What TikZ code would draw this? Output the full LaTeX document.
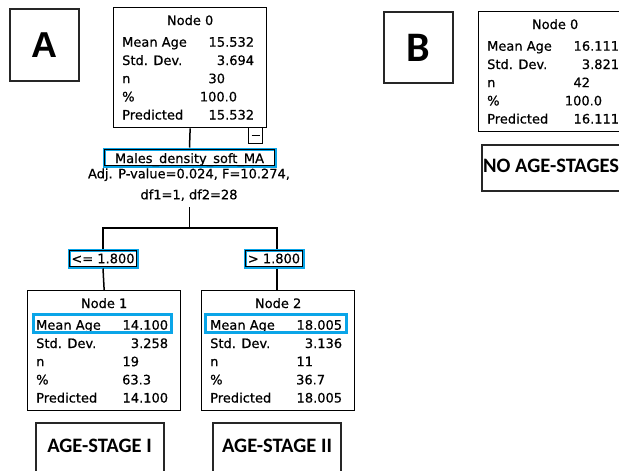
\documentclass[tikz,border=0pt]{standalone}
\usepackage{fontspec}
\newfontfamily\spssfont[FakeBold=0.6]{DejaVu Sans}
\newfontfamily\calfont{Carlito}
\newfontfamily\arialfont{Liberation Sans}
\usetikzlibrary{calc}
\definecolor{hlblue}{RGB}{10,165,232}
\tikzset{
  statbox/.style={draw=black, line width=1.3pt, inner sep=0pt},
  txt/.style={font=\spssfont\fontsize{13}{15}\selectfont, inner sep=0pt},
  conn/.style={draw=black, line width=1.5pt},
  hl/.style={draw=hlblue, line width=3pt, inner sep=0pt},
  stagebox/.style={draw=black!85, line width=1.5pt, inner sep=0pt},
  stagetxt/.style={font=\calfont\bfseries\fontsize{20.5}{24}\selectfont, inner sep=0pt},
}
% #1 name, #2 left, #3 top, #4 title, #5 mean, #6 sd, #7 n, #8 pct, #9 pred
\newcommand\statnode[9]{%
  \node[statbox, minimum width=153pt, minimum height=120pt, anchor=north west] (#1) at (#2,#3) {};
  \node[txt, anchor=base] (#1-title) at ([yshift=-18pt]#1.north) {#4};
  \node[txt, anchor=base west] (#1-l1) at ([xshift=9pt,yshift=-39.7pt]#1.north west) {Mean Age};
  \node[txt, anchor=base west] (#1-l2) at ([xshift=9pt,yshift=-58pt]#1.north west) {Std. Dev.};
  \node[txt, anchor=base west] (#1-l3) at ([xshift=9pt,yshift=-76.2pt]#1.north west) {n};
  \node[txt, anchor=base west] (#1-l4) at ([xshift=9pt,yshift=-94.4pt]#1.north west) {\%};
  \node[txt, anchor=base west] (#1-l5) at ([xshift=9pt,yshift=-112.5pt]#1.north west) {Predicted};
  \node[txt, anchor=base east] (#1-v1) at ([xshift=-13pt,yshift=-39.7pt]#1.north east) {#5};
  \node[txt, anchor=base east] (#1-v2) at ([xshift=-13pt,yshift=-58pt]#1.north east) {#6};
  \node[txt, anchor=base west] (#1-v3) at ([xshift=-59pt,yshift=-76.2pt]#1.north east) {#7};
  \node[txt, anchor=base east] (#1-v4) at ([xshift=-30pt,yshift=-94.4pt]#1.north east) {#8};
  \node[txt, anchor=base east] (#1-v5) at ([xshift=-13pt,yshift=-112.5pt]#1.north east) {#9};
}
\begin{document}
\begin{tikzpicture}[x=1pt,y=-1pt]
\useasboundingbox (0,0) rectangle (619,471);
\clip (0,0) rectangle (619,471);
\fill[white] (0,0) rectangle (619,471);

% panel labels
\node[stagebox, minimum width=69pt, minimum height=72pt,
      font=\arialfont\bfseries\fontsize{36}{40}\selectfont] (boxA) at (44.5,45) {A};
\node[stagebox, minimum width=69pt, minimum height=71pt,
      font=\calfont\bfseries\fontsize{42}{46}\selectfont] (boxB) at (418.5,47.5) {B};

% ---- panel A ----
\statnode{n0}{113}{7}{Node 0}{15.532}{3.694}{30}{100.0}{15.532}
\node[statbox, line width=1.1pt, minimum width=14pt, minimum height=16pt, anchor=north west] (m0) at (248,127) {};
\draw[line width=1.2pt] ([xshift=-4pt]m0.center) -- ([xshift=4pt]m0.center);

\node[hl, minimum width=171pt, minimum height=17pt] (split) at (189.5,157.5) {};
\draw[line width=0.7pt] ([shift={(1.9,1.9)}]split.north west) rectangle ([shift={(-1.9,-1.9)}]split.south east);
\node[txt, anchor=base] (splitt) at (189.5,163) {Males\_density\_soft\_MA};
\node[txt, anchor=base] (pval) at (189,178.3) {Adj. P-value=0.024, F=10.274,};
\node[txt, anchor=base] (dfs) at (189,199.3) {df1=1, df2=28};

\node[hl, txt, minimum width=68pt, minimum height=17pt] (lab1) at (103,258.5) {<= 1.800};
\draw[line width=0.7pt] ([shift={(1.9,1.9)}]lab1.north west) rectangle ([shift={(-1.9,-1.9)}]lab1.south east);
\node[hl, txt, minimum width=58pt, minimum height=17pt] (lab2) at (274,258.5) {> 1.800};
\draw[line width=0.7pt] ([shift={(1.9,1.9)}]lab2.north west) rectangle ([shift={(-1.9,-1.9)}]lab2.south east);

\statnode{n1}{27}{290}{Node 1}{14.100}{3.258}{19}{63.3}{14.100}
\statnode{n2}{201}{290}{Node 2}{18.005}{3.136}{11}{36.7}{18.005}
\node[hl, minimum width=138pt, minimum height=18pt] (h1) at (102,323) {};
\node[hl, minimum width=141pt, minimum height=18pt] (h2) at (275.5,323) {};

% connectors
\coordinate (bstem) at (189.5,207);
\coordinate (bmid) at (189.5,228);
\coordinate (bleft) at (103,228);
\coordinate (bright) at (277,228);
\draw[conn] (n0.south) -- (split.north);
\draw[conn] (bstem) -- (bmid);
\draw[conn] (lab1.north) -- (bleft) -- (bright) -- (bright |- lab2.north);
\draw[conn] (lab1.south) -- (n1.north);
\draw[conn] (bright |- lab2.south) -- (bright |- n2.north);

% stage boxes
\node[stagebox, minimum width=128pt, minimum height=70pt, anchor=north] (s1) at (100,422) {};
\node[stagetxt] (s1t) at (99.5,445.5) {AGE-STAGE I};
\node[stagebox, minimum width=128pt, minimum height=70pt, anchor=north] (s2) at (277,422) {};
\node[stagetxt] (s2t) at (277,445.5) {AGE-STAGE II};

% ---- panel B ----
\statnode{b0}{478}{11}{Node 0}{16.111}{3.821}{42}{100.0}{16.111}
\node[stagebox, minimum width=152pt, minimum height=46pt, anchor=north west] (s3) at (481,144) {};
\node[stagetxt, anchor=west] (s3t) at (483,166) {NO AGE-STAGES};
\end{tikzpicture}
\end{document}
